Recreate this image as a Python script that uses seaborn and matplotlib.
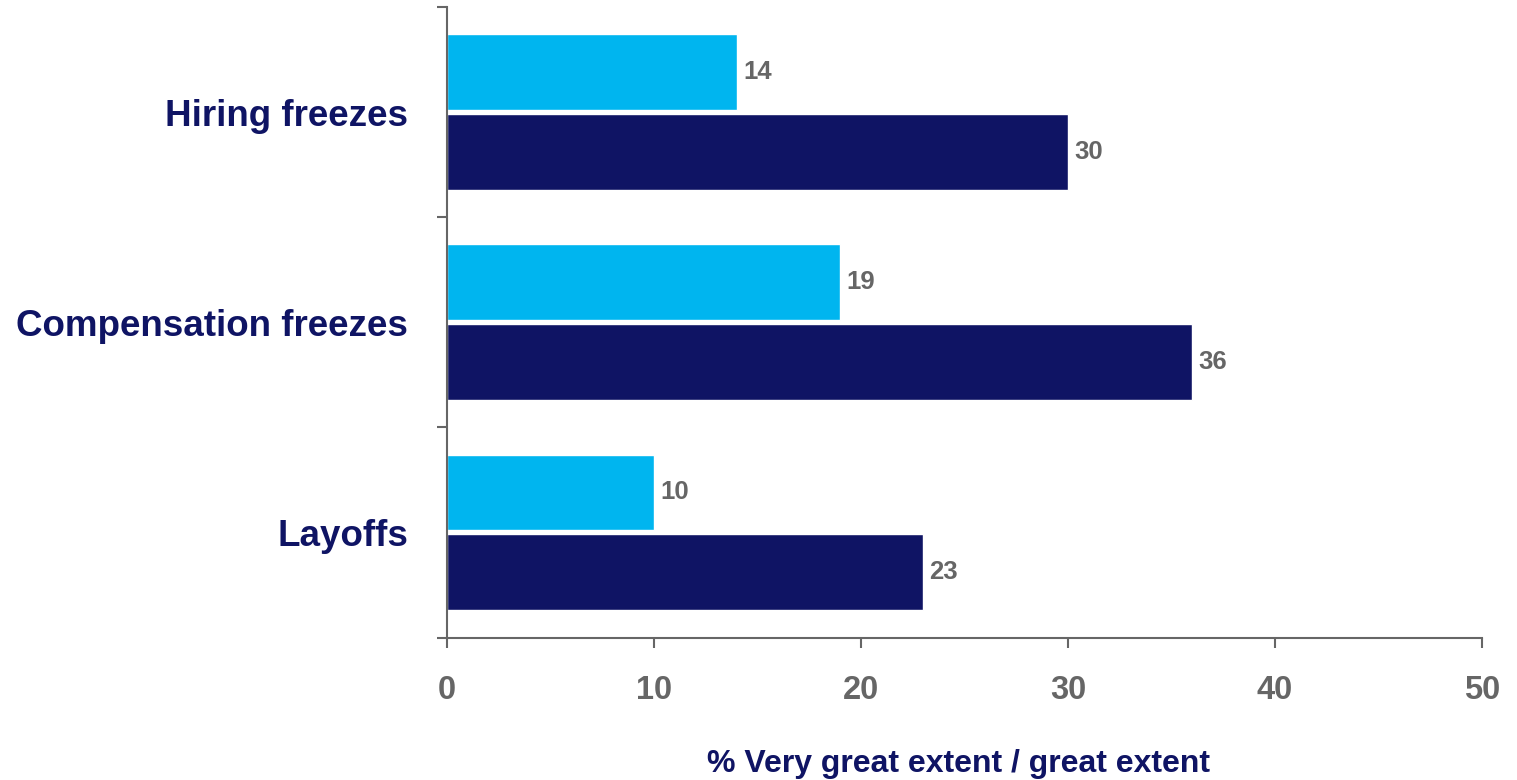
import pandas as pd
import matplotlib.pyplot as plt
import seaborn as sns

# dados do gráfico
categorias = ['Hiring freezes', 'Compensation freezes', 'Layoffs']
series = ['Series 1', 'Series 2']
valores_s1 = [14, 19, 10]
valores_s2 = [30, 36, 23]
ticks_x = [0, 10, 20, 30, 40, 50]

cores = ['#00B5EF', '#0F1464']
cinza = '#666666'
azul_escuro = '#0F1464'

df = pd.DataFrame({
    'categoria': categorias * 2,
    'serie': [series[0]] * 3 + [series[1]] * 3,
    'valor': valores_s1 + valores_s2,
})

sns.set_style('white')
plt.rcParams['font.family'] = ['Liberation Sans', 'DejaVu Sans']

fig = plt.figure(figsize=(15.17, 7.8), dpi=100)
ax = fig.add_axes([447 / 1517, 1 - 637.5 / 780, (1482 - 447) / 1517, (637.5 - 7) / 780])

sns.barplot(data=df, y='categoria', x='valor', hue='serie', order=categorias,
            hue_order=series, palette=cores, orient='h', width=0.76, gap=0.05,
            legend=False, ax=ax, saturation=1)

for cont in ax.containers:
    ax.bar_label(cont, padding=4.5, color=cinza, fontsize=18.5, fontweight='bold')

ax.set_xlim(0, 50)
ax.set_ylim(2.5, -0.5)
ax.set_xticks(ticks_x)
ax.set_xticklabels([str(t) for t in ticks_x], fontsize=23.5, fontweight='bold', color=cinza)
ax.tick_params(axis='x', length=7.2, width=1.5, color=cinza, pad=20, direction='out', bottom=True)

# ticks do eixo y nos limites das categorias, rótulos no centro
ax.set_yticks([-0.5, 0.5, 1.5, 2.5])
ax.set_yticklabels([])
ax.set_yticks(range(len(categorias)), minor=True)
ax.set_yticklabels(categorias, minor=True, fontsize=26.5, fontweight='bold', color=azul_escuro)
ax.tick_params(axis='y', which='major', length=7.2, width=1.5, color=cinza, direction='out', left=True)
ax.tick_params(axis='y', which='minor', length=0, pad=28)

for lado in ['top', 'right']:
    ax.spines[lado].set_visible(False)
for lado in ['left', 'bottom']:
    ax.spines[lado].set_color(cinza)
    ax.spines[lado].set_linewidth(1.5)

ax.set_ylabel('')
ax.set_xlabel('% Very great extent / great extent', fontsize=23, fontweight='bold',
              color=azul_escuro, labelpad=31)
ax.xaxis.set_label_coords(0.494, -0.2)
ax.xaxis.label.set_va('center')

fig.savefig('out.png', dpi=100)
